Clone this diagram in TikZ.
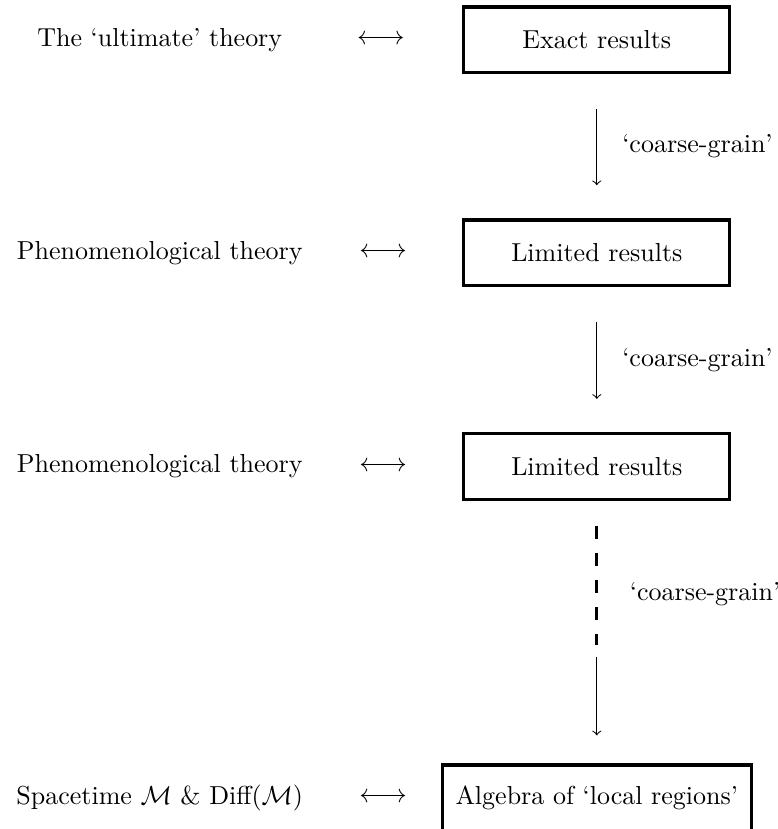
\documentclass[tikz,border=0pt]{standalone}
\begin{document}
\begin{tikzpicture}[coarse/.style={->,shorten >=0.45cm,shorten <=0.47cm}]
    \useasboundingbox (0,0) rectangle (10.52,-11.21);

    % theories on the left
    \node (ult) at (2.16,-0.54) {The `ultimate' theory};
    \node (phen1) at (2.16,-3.42) {Phenomenological theory};
    \node (phen2) at (2.16,-6.31) {Phenomenological theory};
    \node (st) at (2.16,-10.79) {Spacetime $\mathcal{M}$ \& Diff$(\mathcal{M})$};

    \node (lr1) at (5.15,-0.54) {$\longleftrightarrow$};
    \node (lr2) at (5.18,-3.42) {$\longleftrightarrow$};
    \node (lr3) at (5.18,-6.31) {$\longleftrightarrow$};
    \node (lr4) at (5.18,-10.79) {$\longleftrightarrow$};

    \begin{scope}[every node/.style={draw,very thick,minimum width=3.6cm,minimum height=0.89cm}]
        \node (exact) at (8.07,-0.54) {Exact results};
        \node (lim1) at (8.07,-3.42) {Limited results};
        \node (lim2) at (8.07,-6.31) {Limited results};
        \node[minimum width=4.18cm] (alg) at (8.07,-10.79) {Algebra of `local regions'};
    \end{scope}

    \draw[coarse] (exact) -- (lim1)
    node[midway,right=0.22cm] (cg1) {`coarse-grain'};
    \draw[coarse] (lim1) -- (lim2)
    node[midway,right=0.22cm] (cg2) {`coarse-grain'};

    % broken last step
    \coordinate (dashend) at (8.07,-8.72);
    \coordinate (arrstart) at (8.07,-8.88);
    \draw[line width=1.1pt,dash pattern=on 5pt off 5.4pt,shorten <=0.34cm] (lim2) -- (dashend)
    node[pos=0.65,right=0.31cm] (cg3) {`coarse-grain'};
    \draw[->,shorten >=0.38cm] (arrstart) -- (alg);
\end{tikzpicture}
\end{document}
